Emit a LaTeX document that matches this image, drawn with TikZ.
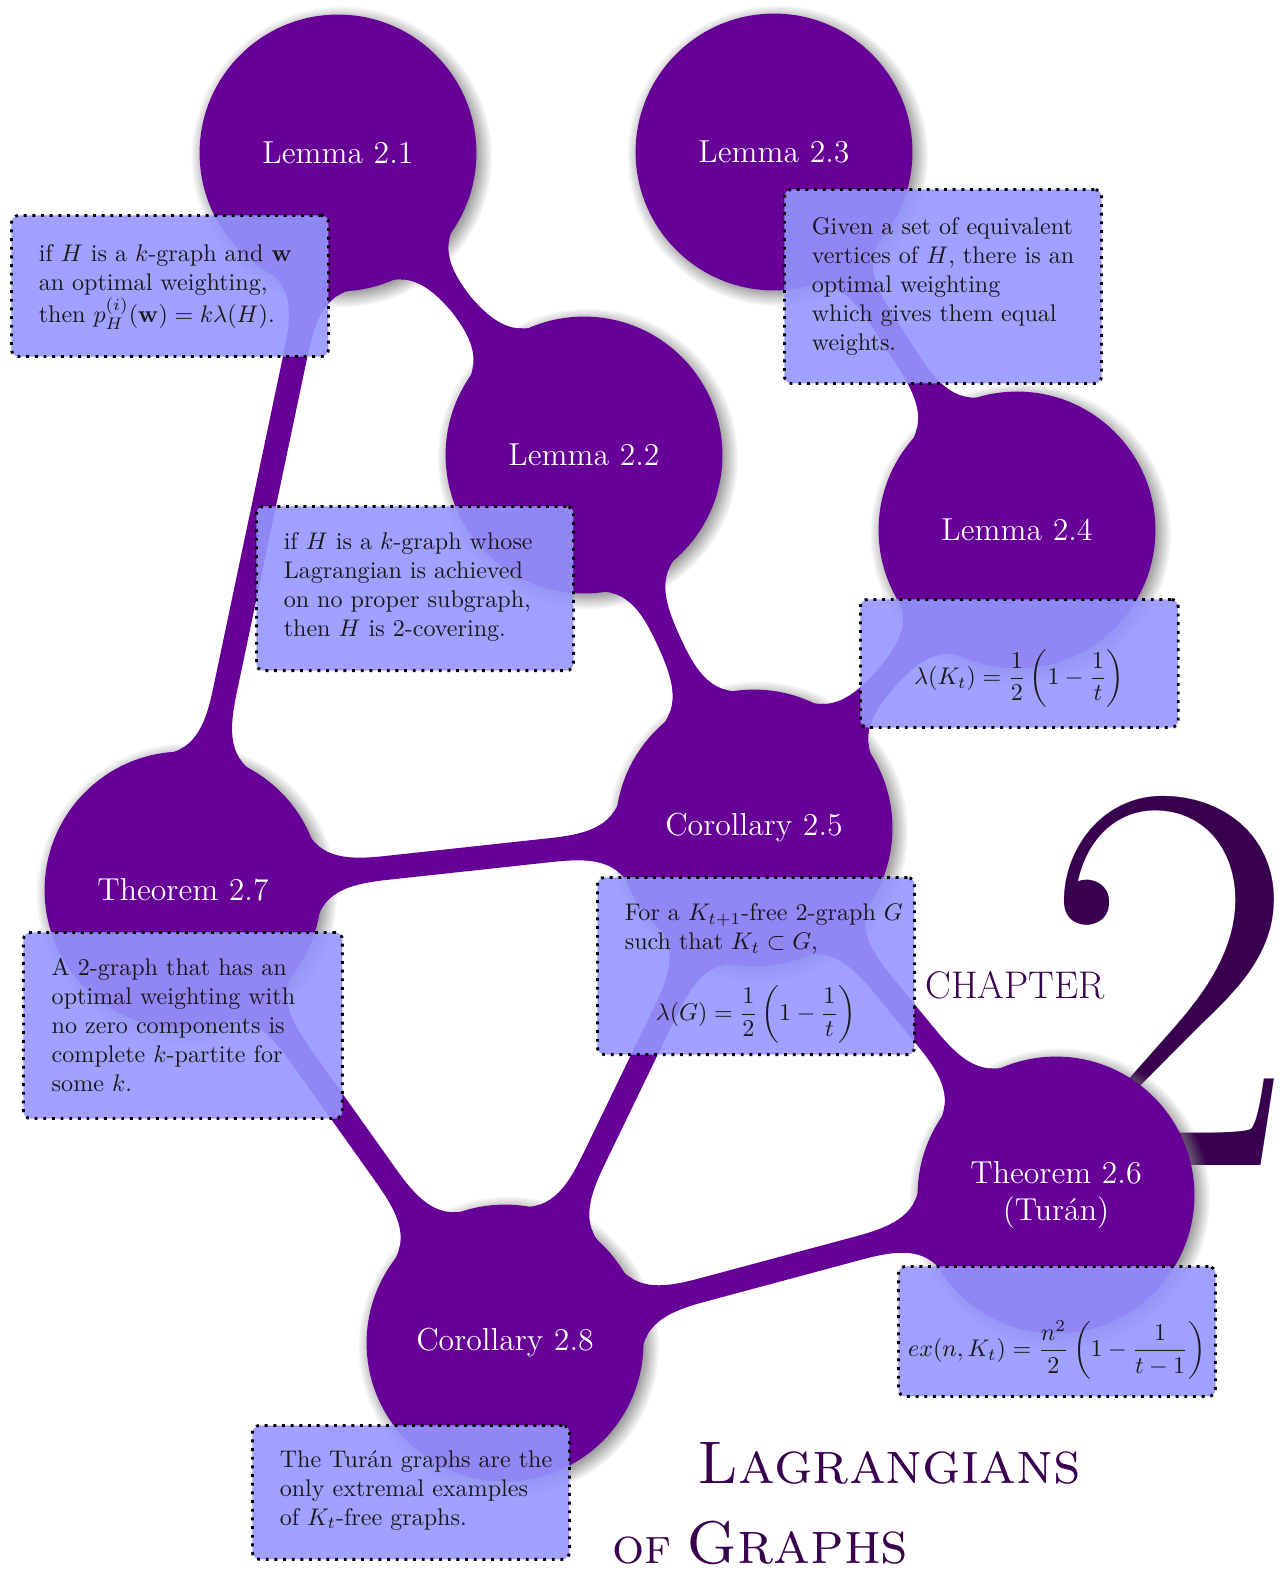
\documentclass[tikz,border=0pt]{standalone}
\usepackage{amsmath}
\usetikzlibrary{mindmap,shadows,decorations}
\definecolor{cpurple}{RGB}{102,0,150}
\definecolor{cdark}{RGB}{56,0,78}
\definecolor{boxblue}{RGB}{149,150,255}
\newcommand\bxl[1]{\mbox{#1}}
\begin{document}
\begin{tikzpicture}[x=0.4154pt,y=-0.4154pt,
  conceptnode/.style={concept, fill=cpurple, circular drop shadow, minimum size=113.8pt,
    text width=3.5cm, align=center, inner sep=0pt, text=white,
    font=\fontsize{13.2}{15.4}\selectfont},
  bar/.style={circle connection bar switch color=from (cpurple) to (cpurple)},
  notebox/.style={draw=black, line width=1.2pt, dash pattern=on 1.2pt off 2.4pt,
    rounded corners=3pt, fill=boxblue, fill opacity=0.9, text opacity=1,
    text=black!90, font=\fontsize{10}{12}\selectfont, anchor=north west, inner ysep=0pt},
  notetext/.style={notebox, text width=109pt, inner xsep=11.35pt, align=left},
  noteformula/.style={notebox, inner xsep=0pt, minimum width=131.7pt},
  titletext/.style={inner sep=0pt, anchor=base west, text=cdark}
]
\useasboundingbox (0,0) rectangle (1287,1573);

% big chapter number
\node[titletext, font=\fontsize{232}{232}\selectfont] (two) at (1041,1165) {2};
\node[titletext, font=\fontsize{16}{19}\selectfont] (chap) at (925,998) {CHAPTER};

\begin{scope}[mindmap, concept color=cpurple]
  \node[conceptnode] (l21) at (338,153) {Lemma 2.1};
  \node[conceptnode] (l23) at (774,152) {Lemma 2.3};
  \node[conceptnode] (l22) at (584,455) {Lemma 2.2};
  \node[conceptnode] (l24) at (1017,530) {Lemma 2.4};
  \node[conceptnode] (c25) at (754,828) {Corollary 2.5};
  \node[conceptnode] (t27) at (183,890) {Theorem 2.7};
  \node[conceptnode] (t26) at (1056,1195) {Theorem 2.6\\(Tur\'an)};
  \node[conceptnode] (c28) at (505,1343) {Corollary 2.8};

  \path (l21) to[bar] (l22);
  \path (l21) to[bar] (t27);
  \path (l22) to[bar] (c25);
  \path (l23) to[bar] (l24);
  \path (l24) to[bar] (c25);
  \path (c25) to[bar] (t27);
  \path (c25) to[bar] (c28);
  \path (c25) to[bar] (t26);
  \path (t27) to[bar] (c28);
  \path (c28) to[bar] (t26);
\end{scope}

% note boxes
\node[notetext, text height=19.1pt, text depth=39.5pt] (b21) at (10,214)
  {\bxl{if $H$ is a $k$-graph and $\mathbf{w}$}\\
   \bxl{an optimal weighting,}\\
   \bxl{then $p^{(i)}_H(\mathbf{w}) = k\lambda(H)$.}};
\node[notetext, text height=18.7pt, text depth=61.9pt] (b23) at (783,188)
  {\bxl{Given a set of equivalent}\\
   \bxl{vertices of $H$, there is an}\\
   \bxl{optimal weighting}\\
   \bxl{which gives them equal}\\
   \bxl{weights.}};
\node[notetext, text height=17.9pt, text depth=50.3pt] (b22) at (255,505)
  {\bxl{if $H$ is a $k$-graph whose}\\
   \bxl{Lagrangian is achieved}\\
   \bxl{on no proper subgraph,}\\
   \bxl{then $H$ is 2-covering.}};
\node[noteformula, minimum width=132pt, text height=35.3pt, text depth=17.9pt] (b24) at (859,598)
  {$\displaystyle \lambda(K_t) = \frac{1}{2}\left(1-\frac{1}{t}\right)$};
\node[notetext, text height=17.9pt, text depth=55.7pt] (b25) at (596,876)
  {\bxl{For a $K_{t+1}$-free 2-graph $G$}\\
   \bxl{such that $K_t\subset G$,}\\[12pt]
   \makebox[\linewidth][c]{$\displaystyle \lambda(G) = \frac{1}{2}\left(1-\frac{1}{t}\right)$}};
\node[notetext, inner xsep=11.75pt, text height=17.9pt, text depth=59.4pt] (b27) at (22,931)
  {\bxl{A 2-graph that has an}\\
   \bxl{optimal weighting with}\\
   \bxl{no zero components is}\\
   \bxl{complete $k$-partite for}\\
   \bxl{some $k$.}};
\node[noteformula, text height=37.4pt, text depth=16.6pt] (b26) at (897,1265)
  {$\displaystyle ex(n,K_t) = \frac{n^2}{2}\left(1-\frac{1}{t-1}\right)$};
\node[notetext, text height=17.4pt, text depth=38.2pt] (b28) at (251,1424)
  {\bxl{The Tur\'an graphs are the}\\
   \bxl{only extremal examples}\\
   \bxl{of $K_t$-free graphs.}};

% title
\node[titletext, font=\fontsize{25}{30}\selectfont\scshape] (lag) at (697,1483) {Lagrangians};
\node[titletext, font=\fontsize{25}{30}\selectfont\scshape] (ofg) at (612,1563) {{\fontsize{21}{24}\selectfont of}\hspace{6pt}Graphs};
\end{tikzpicture}
\end{document}
